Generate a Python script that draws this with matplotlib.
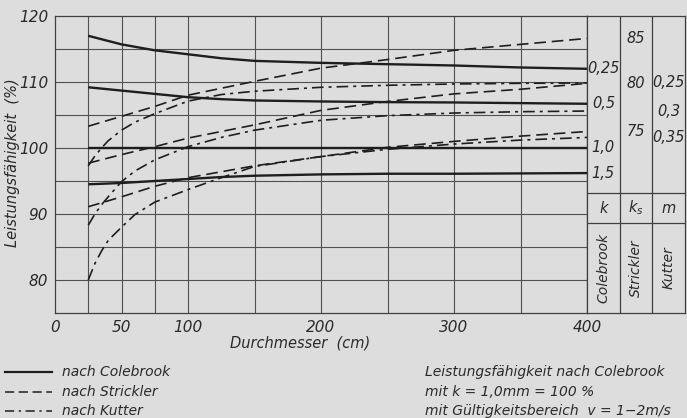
import matplotlib
matplotlib.use("Agg")
import matplotlib.pyplot as plt
from matplotlib.lines import Line2D

plt.rcParams['font.family'] = ['DejaVu Sans']
plt.rcParams['font.style'] = 'italic'

# ---------------- data ----------------
x_cb = [25, 50, 75, 100, 125, 150, 200, 250, 300, 350, 400]
cb_025 = [117.0, 115.7, 114.8, 114.2, 113.6, 113.2, 112.9, 112.7, 112.5, 112.2, 112.0]
cb_05 = [109.2, 108.7, 108.2, 107.7, 107.4, 107.2, 107.05, 106.95, 106.9, 106.8, 106.7]
cb_10 = [100.0, 100.0, 100.0, 100.0, 100.0, 100.0, 100.0, 100.0, 100.0, 100.0, 100.0]
cb_15 = [94.5, 94.7, 95.0, 95.3, 95.6, 95.8, 96.0, 96.1, 96.1, 96.15, 96.2]

x_st = [25, 50, 75, 100, 150, 200, 250, 300, 350, 400]
st_85 = [103.3, 104.8, 106.3, 108.0, 110.1, 112.1, 113.4, 114.8, 115.7, 116.6]
st_80 = [97.7, 99.0, 100.2, 101.5, 103.5, 105.7, 107.05, 108.2, 108.9, 109.8]
st_75 = [91.1, 92.6, 94.2, 95.5, 97.3, 98.7, 100.1, 101.0, 101.8, 102.5]

x_ku = [25, 30, 35, 40, 50, 60, 75, 100, 125, 150, 200, 250, 300, 350, 400]
ku_025 = [97.3, 98.8, 100.0, 101.1, 102.7, 103.9, 105.2, 107.1, 108.1, 108.6, 109.2, 109.5, 109.7, 109.8, 109.85]
ku_03 = [88.3, 90.0, 91.4, 92.6, 94.9, 96.5, 98.2, 100.2, 101.6, 102.7, 104.2, 104.9, 105.3, 105.5, 105.6]
ku_035 = [80.0, 82.5, 84.4, 86.0, 88.0, 89.9, 91.8, 93.7, 95.5, 97.2, 98.7, 99.8, 100.6, 101.2, 101.6]

k_labels = ["0,25", "0,5", "1,0", "1,5"]
ks_labels = ["85", "80", "75"]
m_labels = ["0,25", "0,3", "0,35"]

x_ticks = [0, 50, 100, 200, 300, 400]
y_ticks = [80, 90, 100, 110, 120]
x_grid = [25, 50, 75, 100, 150, 200, 250, 300, 350]
y_grid = [80, 85, 90, 95, 100, 105, 110, 115]

# ---------------- figure ----------------
W, H = 687, 418
bg = '#dddddd'
ink = '#1e1e1e'
txt = '#2a2a2a'
fig = plt.figure(figsize=(W / 100, H / 100), dpi=100, facecolor=bg)

def fx(px):
    return px / W

def fy(py):
    return 1 - py / H

L, R, T, B = 55, 587, 16, 313
ax = fig.add_axes([fx(L), fy(B), fx(R - L), fy(T) - fy(B)])
ax.set_facecolor(bg)
ax.set_xlim(0, 400)
ax.set_ylim(75, 120)
for g in x_grid:
    ax.axvline(g, color='#505050', lw=0.8, zorder=1)
for g in y_grid:
    ax.axhline(g, color='#505050', lw=0.8, zorder=1)
for s in ax.spines.values():
    s.set_color('#404040')
    s.set_linewidth(0.9)
ax.set_xticks(x_ticks)
ax.set_yticks(y_ticks)
ax.tick_params(length=0, labelsize=11, labelcolor=txt, pad=5)
for lab in ax.get_xticklabels() + ax.get_yticklabels():
    lab.set_style('italic')

solid_kw = dict(color=ink, lw=1.7, solid_capstyle='butt', zorder=3)
dash_kw = dict(color=ink, lw=1.2, dashes=(7, 3.5), zorder=3)
dd_kw = dict(color=ink, lw=1.2, dashes=(7, 3, 1.8, 3), zorder=3)

for y in (cb_025, cb_05, cb_10, cb_15):
    ax.plot(x_cb, y, **solid_kw)
for y in (st_85, st_80, st_75):
    ax.plot(x_st, y, **dash_kw)
for y in (ku_025, ku_03, ku_035):
    ax.plot(x_ku, y, **dd_kw)

fig.text(fx(13), fy(163), 'Leistungsfähigkeit  (%)', fontsize=10.5, color=txt,
         style='italic', rotation=90, ha='center', va='center')
fig.text(fx(300), fy(343), 'Durchmesser  (cm)', fontsize=10.5, color=txt,
         style='italic', ha='center', va='center')

# ---------------- side table ----------------
tx = fig.add_axes([fx(587), fy(B), fx(685 - 587), fy(T) - fy(B)])
tx.set_facecolor(bg)
tx.set_xlim(0, 3)
tx.set_ylim(75, 120)
tx.set_xticks([])
tx.set_yticks([])
for s in tx.spines.values():
    s.set_color('#404040')
    s.set_linewidth(0.9)
for xv in (1, 2):
    tx.axvline(xv, color='#404040', lw=0.9)
tx.axhline(93.15, color='#404040', lw=0.9)
tx.axhline(88.6, color='#404040', lw=0.9)

fs = 10.5
for lab, y in zip(k_labels, [cb_025[-1], cb_05[-1], cb_10[-1], cb_15[-1]]):
    tx.text(0.5, y, lab, ha='center', va='center', fontsize=fs, color=txt, style='italic')
for lab, y in zip(ks_labels, [st_85[-1], st_80[-1], st_75[-1]]):
    tx.text(1.5, y, lab, ha='center', va='center', fontsize=fs, color=txt, style='italic')
for lab, y in zip(m_labels, [ku_025[-1], ku_03[-1], ku_035[-1]]):
    tx.text(2.5, y, lab, ha='center', va='center', fontsize=fs, color=txt, style='italic')

tx.text(0.5, 90.9, 'k', ha='center', va='center', fontsize=fs, color=txt, style='italic')
tx.text(1.5, 90.9, r'$k_s$', ha='center', va='center', fontsize=fs, color=txt)
tx.text(2.5, 90.9, 'm', ha='center', va='center', fontsize=fs, color=txt, style='italic')
for i, name in enumerate(['Colebrook', 'Strickler', 'Kutter']):
    tx.text(i + 0.5, 81.8, name, ha='center', va='center', rotation=90,
            fontsize=10, color=txt, style='italic')

# ---------------- legend / notes ----------------
leg_y = [372, 392, 411]
leg_styles = [dict(lw=1.6), dict(lw=1.1, dashes=(6, 3)), dict(lw=1.1, dashes=(6, 3, 1.5, 3))]
leg_text = ['nach Colebrook', 'nach Strickler', 'nach Kutter']
for yy, st, t in zip(leg_y, leg_styles, leg_text):
    fig.add_artist(Line2D([fx(5), fx(52)], [fy(yy), fy(yy)], color=ink, **st))
    fig.text(fx(62), fy(yy), t, fontsize=10, color=txt, style='italic', va='center')

notes = ['Leistungsfähigkeit nach Colebrook', 'mit k = 1,0mm = 100 %',
         'mit Gültigkeitsbereich  v = 1−2m/s']
for yy, t in zip(leg_y, notes):
    fig.text(fx(425), fy(yy), t, fontsize=10, color=txt, style='italic', va='center')

fig.savefig('out.png', dpi=100, facecolor=bg)
